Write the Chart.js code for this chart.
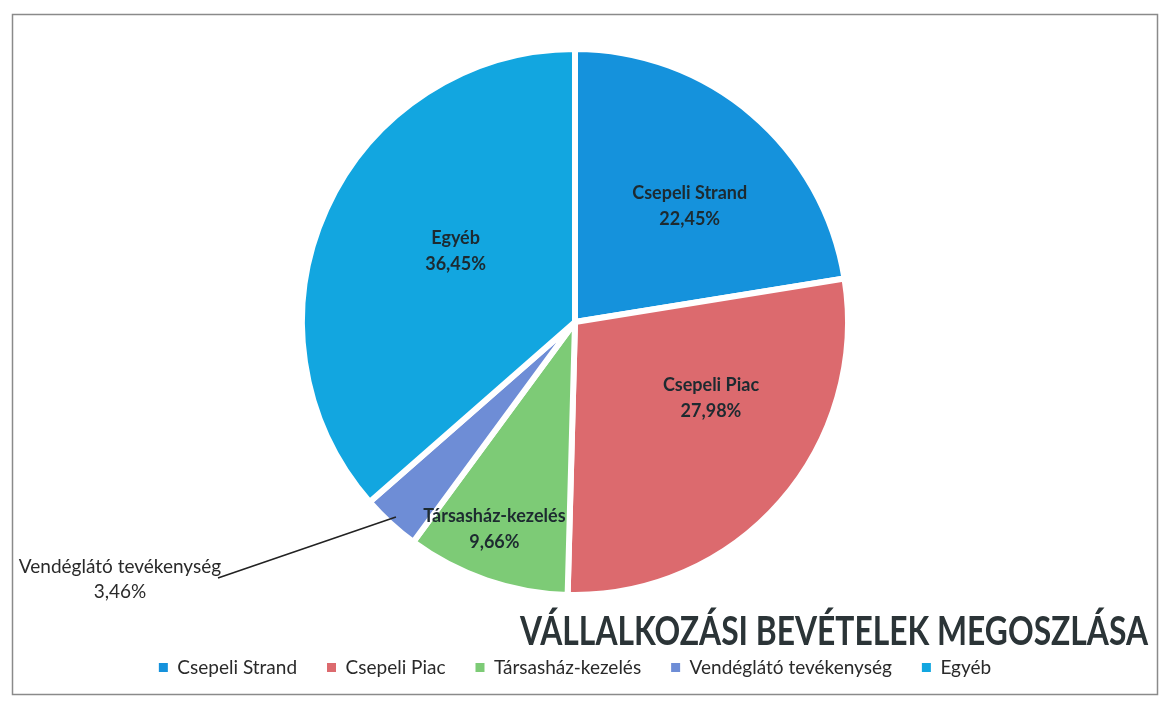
<!DOCTYPE html>
<html>
<head>
<meta charset="utf-8">
<script src="https://cdn.jsdelivr.net/npm/chart.js@4"></script>
<style>
    html, body { margin: 0; padding: 0; background: #fff; }
    #wrap { width: 1168px; height: 706px; }
</style>
</head>
<body>
<div id="wrap"><canvas id="bevetelChart"></canvas></div>
<script>
const categories = ['Csepeli Strand', 'Csepeli Piac', 'Társasház-kezelés', 'Vendéglátó tevékenység', 'Egyéb'];
const shares = [22.45, 27.98, 9.66, 3.46, 36.45];
const percentLabels = ['22,45%', '27,98%', '9,66%', '3,46%', '36,45%'];
const chartTitle = 'VÁLLALKOZÁSI BEVÉTELEK MEGOSZLÁSA';

const sliceColors = ['#1592dc', '#dc6a6e', '#7dcb76', '#6e8dd6', '#12a6e0'];
// [distance from centre as part of radius, position inside the slice's angle]
const labelSpot = [[0.6, 0.55], [0.57, 0.38], [0.81, 0.57], null, [0.51, 0.55]];
const fontFamily = 'Lato, "Open Sans", sans-serif';

// frame + white background
const framePlugin = {
    id: 'frame',
    beforeDraw(chart) {
        const ctx = chart.ctx;
        ctx.save();
        ctx.fillStyle = '#fff';
        ctx.fillRect(0, 0, chart.width, chart.height);
        ctx.strokeStyle = '#8a8a8a';
        ctx.lineWidth = 1.5;
        ctx.strokeRect(12.5, 14.5, 1145, 680);
        ctx.restore();
    }
};

// texts inside the slices, and the outside label with leader line
const sliceLabels = {
    id: 'sliceLabels',
    afterDatasetsDraw(chart) {
        const ctx = chart.ctx;
        const meta = chart.getDatasetMeta(0);
        ctx.save();
        ctx.textAlign = 'center';
        ctx.textBaseline = 'middle';
        meta.data.forEach((arc, i) => {
            const p = arc.getProps(['x', 'y', 'startAngle', 'endAngle', 'outerRadius'], true);
            if (labelSpot[i] === null) {
                const mid = (p.startAngle + p.endAngle) / 2;
                const sx = p.x + Math.cos(mid) * p.outerRadius * 0.97;
                const sy = p.y + Math.sin(mid) * p.outerRadius * 0.97;
                const ex = p.x - 357, ey = p.y + 256;
                ctx.strokeStyle = '#222';
                ctx.lineWidth = 1.6;
                ctx.beginPath();
                ctx.moveTo(sx, sy);
                ctx.lineTo(ex, ey);
                ctx.stroke();
                ctx.fillStyle = '#2a2a2a';
                ctx.font = '19px ' + fontFamily;
                ctx.fillText(categories[i], p.x - 455, p.y + 245);
                ctx.fillText(percentLabels[i], p.x - 455, p.y + 270);
                return;
            }
            const ang = p.startAngle + (p.endAngle - p.startAngle) * labelSpot[i][1];
            const r = p.outerRadius * labelSpot[i][0];
            const cx = p.x + Math.cos(ang) * r;
            const cy = p.y + Math.sin(ang) * r;
            ctx.fillStyle = '#1d2a30';
            ctx.font = 'bold 18px ' + fontFamily;
            ctx.fillText(categories[i], cx, cy - 12);
            ctx.fillText(percentLabels[i], cx, cy + 14);
        });
        ctx.restore();
    }
};

// title squeezed like the original narrow font
const titlePlugin = {
    id: 'narrowTitle',
    afterDraw(chart) {
        const ctx = chart.ctx;
        ctx.save();
        ctx.font = 'bold 40px ' + fontFamily;
        ctx.fillStyle = '#2b3437';
        ctx.textBaseline = 'alphabetic';
        const w = ctx.measureText(chartTitle).width;
        const target = 628;
        ctx.translate(520, 645);
        ctx.scale(target / w, 1);
        ctx.fillText(chartTitle, 0, 0);
        ctx.restore();
    }
};

const ctx = document.getElementById('bevetelChart').getContext('2d');
const bevetelChart = new Chart(ctx, {
    type: 'pie',
    data: {
        labels: categories,
        datasets: [{
            data: shares,
            backgroundColor: sliceColors,
            borderColor: '#ffffff',
            borderWidth: 6,
            radius: 273
        }]
    },
    options: {
        responsive: true,
        maintainAspectRatio: false,
        animation: false,
        layout: {
            padding: { left: 2, right: 20, top: 16, bottom: 19 }
        },
        plugins: {
            legend: {
                position: 'bottom',
                labels: {
                    boxWidth: 9,
                    boxHeight: 9,
                    padding: 30,
                    color: '#2a2a2a',
                    font: { family: fontFamily, size: 19 },
                    generateLabels(chart) {
                        const items = Chart.overrides.pie.plugins.legend.labels.generateLabels(chart);
                        items.forEach(it => { it.lineWidth = 0; it.strokeStyle = it.fillStyle; });
                        return items;
                    }
                }
            },
            tooltip: { enabled: false }
        }
    },
    plugins: [framePlugin, sliceLabels, titlePlugin]
});
</script>
</body>
</html>
